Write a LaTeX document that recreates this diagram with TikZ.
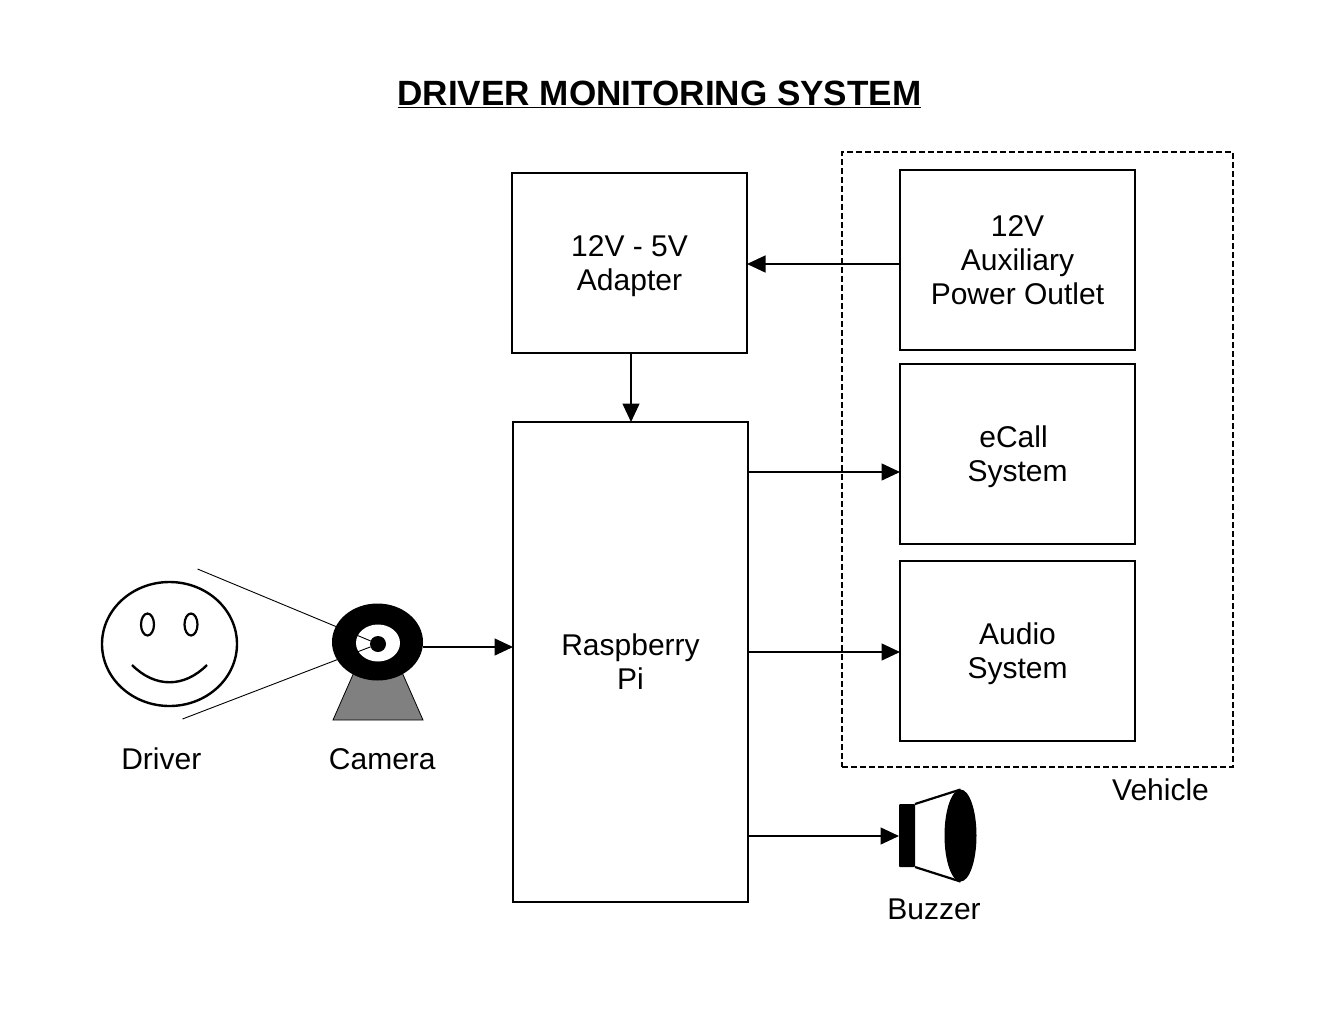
\documentclass[tikz,border=0pt]{standalone}
\usepackage{fontspec}
\setmainfont{Liberation Sans}
\usetikzlibrary{arrows.meta,shapes.geometric}
\newcommand{\lowertext}[1]{\raisebox{-3pt}[\height][\depth]{#1}}
\tikzset{
  x=1pt,y=-1pt,
  blockbox/.style={draw,line width=1.4pt,fill=white,minimum width=235pt,minimum height=180pt,outer sep=0pt,inner sep=0pt,align=center,font=\fontsize{30}{33.8}\selectfont},
  lbl/.style={font=\fontsize{30}{33.8}\selectfont,inner sep=0pt},
  arr/.style={line width=1.4pt,-{Triangle[length=18.5pt,width=17pt]}},
  sight/.style={line width=0.9pt},
  oval/.style={ellipse,draw,line width=2.4pt,outer sep=0pt,inner sep=0pt},
  filled/.style={ellipse,fill=black,outer sep=0pt,inner sep=0pt}
}
\begin{document}
\begin{tikzpicture}
\useasboundingbox (0,0) rectangle (1320,1020);
\node[inner sep=0pt,font=\fontsize{35.1}{40}\bfseries\selectfont] (title) at (659.5,94) {\underline{DRIVER MONITORING SYSTEM}};
\node[draw,dash pattern=on 6pt off 3pt,line width=1.4pt,minimum width=391pt,minimum height=615pt,outer sep=0pt,inner sep=0pt] (vehicle) at (1037.5,459.5) {};
\node[lbl] (vehlabel) at (1160.5,790) {Vehicle};
\node[blockbox] (adapter) at (629.5,263) {\lowertext{12V - 5V}\\\lowertext{Adapter}};
\node[blockbox,minimum height=480pt] (pi) at (630.5,662) {Raspberry\\Pi};
\node[blockbox] (aux) at (1017.5,260) {12V\\Auxiliary\\Power Outlet};
\node[blockbox] (ecall) at (1017.5,454) {\lowertext{eCall\hspace*{8pt}}\\\lowertext{System}};
\node[blockbox] (audio) at (1017.5,651) {\lowertext{Audio}\\\lowertext{System}};
% driver
\node[oval,minimum width=135pt,minimum height=124pt] (face) at (169.5,644) {};
\node[oval,line width=2.2pt,minimum width=13pt,minimum height=22pt] (eyeL) at (147.5,624.5) {};
\node[oval,line width=2.2pt,minimum width=13pt,minimum height=22pt] (eyeR) at (191,624.5) {};
\draw[line width=2.4pt] (132,665) .. controls (155,688) and (184,688) .. (207,665);
\node[lbl] (driver) at (161.3,759) {Driver};
% camera
\draw[fill=black!50,line width=0.8pt] (333,720) -- (355,670) -- (401,670) -- (423,720) -- cycle;
\node[filled,minimum width=91pt,minimum height=77pt] (cam) at (377.5,642) {};
\node[ellipse,fill=white,minimum width=44pt,minimum height=37pt,inner sep=0pt] (lens) at (378,643) {};
\coordinate (sightA) at (197.5,569);
\coordinate (sightB) at (182.5,719);
\node[filled,minimum width=16pt,minimum height=16pt] (pupil) at (378,644) {};
\draw[sight] (sightA) -- (pupil);
\draw[sight] (sightB) -- (pupil);
\node[lbl] (camera) at (382.3,759) {Camera};
% buzzer
\node[fill=black,minimum width=16pt,minimum height=63pt,inner sep=0pt,outer sep=0pt,rounded corners=1pt] (bzbody) at (907,835.5) {};
\node[filled,minimum width=32pt,minimum height=92pt] (bzcone) at (960.5,835.5) {};
\draw[line width=2.2pt] (bzbody.north east) -- (bzcone.north);
\draw[line width=2.2pt] (bzbody.south east) -- (bzcone.south);
\node[lbl] (buzzer) at (934,909) {Buzzer};
% connectors
\draw[arr] (aux.west |- 0,264) -- (adapter.east |- 0,264);
\draw[arr] (631,353) -- (631,422);
\draw[arr] (cam.east |- 0,647) -- (pi.west |- 0,647);
\draw[arr] (pi.east |- 0,472) -- (ecall.west |- 0,472);
\draw[arr] (pi.east |- 0,652) -- (audio.west |- 0,652);
\draw[arr] (pi.east |- 0,836) -- (bzbody.west |- 0,836);
\end{tikzpicture}
\end{document}
